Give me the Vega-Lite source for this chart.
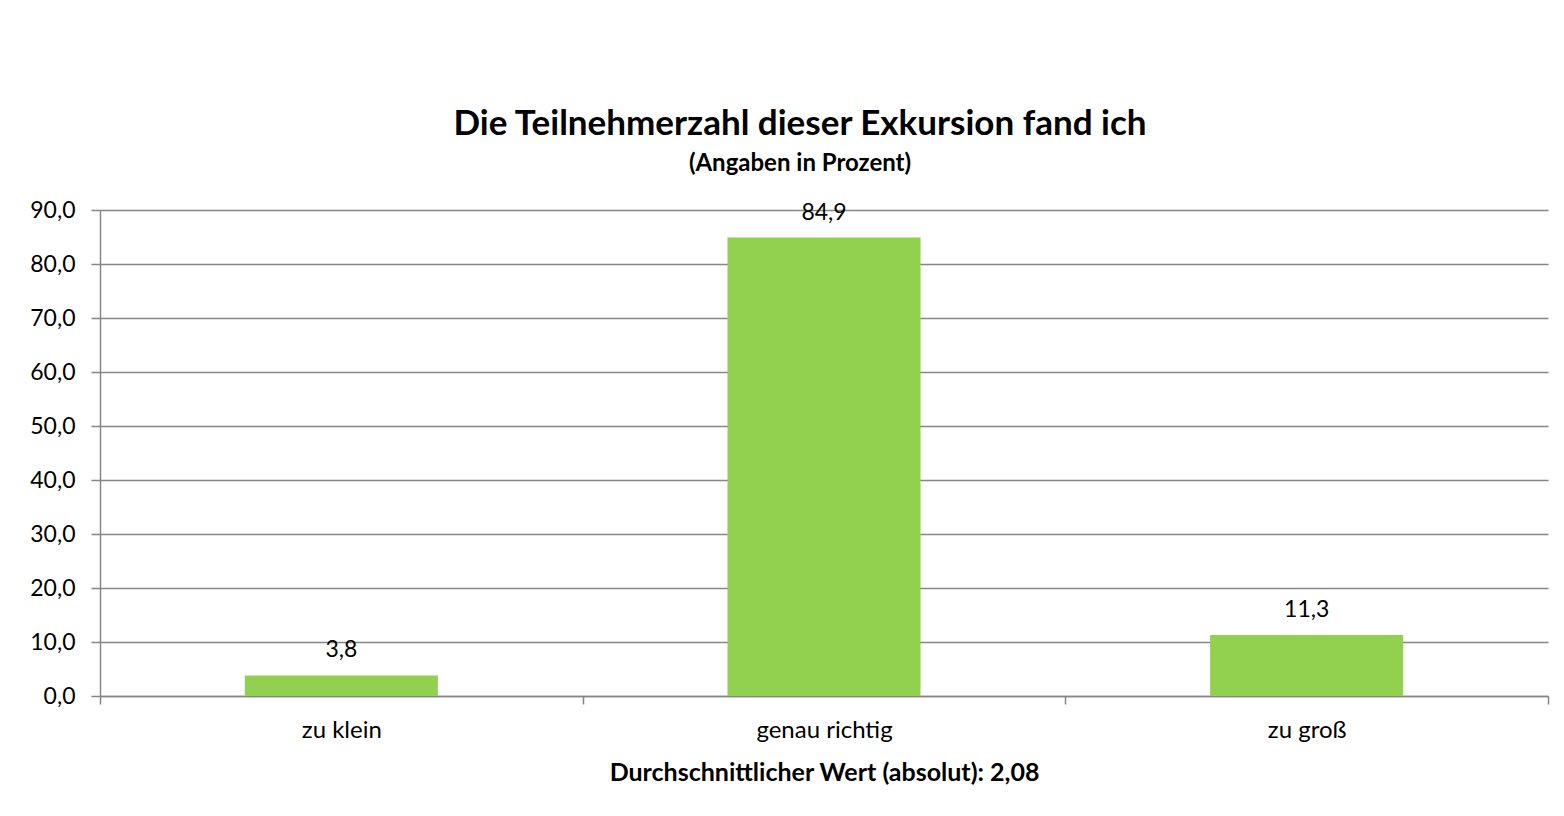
{
  "$schema": "https://vega.github.io/schema/vega-lite/v6.json",
  "width": 1448,
  "height": 486,
  "autosize": {"type": "none"},
  "padding": {"left": 100, "top": 210, "right": 16, "bottom": 120},
  "background": "white",
  "title": {
    "text": "Die Teilnehmerzahl dieser Exkursion fand ich",
    "subtitle": "(Angaben in Prozent)",
    "anchor": "middle",
    "dx": -24,
    "offset": 23,
    "font": "Lato",
    "fontSize": 35,
    "fontWeight": "bold",
    "color": "black",
    "subtitleFont": "Lato",
    "subtitleFontSize": 24,
    "subtitleFontWeight": "bold",
    "subtitleColor": "black",
    "subtitlePadding": 10
  },
  "data": {
    "values": [
      {"kategorie": "zu klein", "prozent": 3.8},
      {"kategorie": "genau richtig", "prozent": 84.9},
      {"kategorie": "zu groß", "prozent": 11.3}
    ]
  },
  "encoding": {
    "x": {
      "field": "kategorie",
      "type": "nominal",
      "sort": null,
      "scale": {"paddingInner": 0, "paddingOuter": 0},
      "axis": {
        "title": "Durchschnittlicher Wert (absolut): 2,08",
        "titleFont": "Lato",
        "titleFontSize": 25,
        "titleFontWeight": "bold",
        "titleColor": "black",
        "titlePadding": 18,
        "labelAngle": 0,
        "labelFont": "Lato",
        "labelFontSize": 24,
        "labelColor": "black",
        "labelPadding": 14,
        "tickBand": "extent",
        "tickSize": 8,
        "tickColor": "#868686",
        "tickWidth": 1.5,
        "domainColor": "#868686",
        "domainWidth": 1.5,
        "grid": false
      }
    },
    "y": {
      "field": "prozent",
      "type": "quantitative",
      "scale": {"domain": [0, 90]},
      "axis": {
        "title": null,
        "values": [0, 10, 20, 30, 40, 50, 60, 70, 80, 90],
        "format": ".1f",
        "labelFont": "Lato",
        "labelFontSize": 23,
        "labelColor": "black",
        "labelPadding": 16,
        "tickSize": 9,
        "tickColor": "#868686",
        "tickWidth": 1.5,
        "domainColor": "#868686",
        "domainWidth": 1.5,
        "grid": true,
        "gridColor": "#868686",
        "gridWidth": 1.5
      }
    }
  },
  "layer": [
    {"mark": {"type": "bar", "color": "#92D050", "width": {"band": 0.4}}},
    {
      "mark": {"type": "text", "baseline": "middle", "dy": -25, "font": "Lato", "fontSize": 23, "color": "black"},
      "encoding": {"text": {"field": "prozent", "type": "quantitative", "format": ".1f"}}
    }
  ],
  "config": {
    "view": {"stroke": null},
    "locale": {
      "number": {"decimal": ",", "thousands": ".", "grouping": [3], "currency": ["", " €"]}
    }
  }
}
